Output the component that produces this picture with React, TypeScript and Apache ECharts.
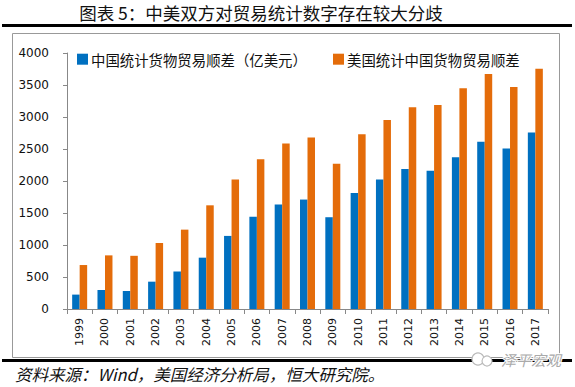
import React, { useEffect, useRef } from "react";
import * as echarts from "echarts";

const years = ["1999","2000","2001","2002","2003","2004","2005","2006","2007","2008","2009","2010","2011","2012","2013","2014","2015","2016","2017"];
const chinaStat = [225, 297, 281, 427, 586, 802, 1142, 1443, 1633, 1710, 1434, 1813, 2023, 2189, 2159, 2372, 2614, 2508, 2758];
const usStat = [687, 838, 831, 1031, 1240, 1620, 2023, 2341, 2587, 2680, 2268, 2731, 2952, 3151, 3187, 3449, 3672, 3470, 3752];
const seriesNames = ["中国统计货物贸易顺差（亿美元）", "美国统计中国货物贸易顺差"];
const titleText = "图表 5：中美双方对贸易统计数字存在较大分歧";
const sourceText = "资料来源：Wind，美国经济分析局，恒大研究院。";
const watermark = "泽平宏观";

export default function App() {
  const ref = useRef<HTMLDivElement>(null);
  useEffect(() => {
    if (!ref.current) return;
    const chart = echarts.init(ref.current, null, { renderer: "svg" });
    const cjk = "'Noto Sans CJK SC', sans-serif";
    chart.setOption({
      animation: false,
      backgroundColor: "#fff",
      grid: { left: 67, right: 27, top: 53, bottom: 78, containLabel: false },
      legend: [
        {
          data: [seriesNames[0]],
          left: 72, top: 47,
          icon: "rect", itemWidth: 11, itemHeight: 11, itemGap: 4,
          textStyle: { fontFamily: cjk, fontSize: 14.4, color: "#111", padding: [0, 0, 0, -2] },
        },
        {
          data: [seriesNames[1]],
          left: 328, top: 47,
          icon: "rect", itemWidth: 11, itemHeight: 11, itemGap: 4,
          textStyle: { fontFamily: cjk, fontSize: 14.4, color: "#111", padding: [0, 0, 0, -2] },
        },
      ],
      xAxis: {
        type: "category",
        data: years,
        axisLine: { lineStyle: { color: "#888", width: 1 } },
        axisTick: { show: true, length: 5, lineStyle: { color: "#888" } },
        axisLabel: { rotate: 90, fontFamily: "'DejaVu Sans', sans-serif", fontSize: 11, color: "#111", margin: 9, interval: 0 },
      },
      yAxis: {
        type: "value",
        min: 0, max: 4000, interval: 500,
        splitLine: { show: false },
        axisLine: { show: true, lineStyle: { color: "#888", width: 1 } },
        axisTick: { show: true, length: 4, lineStyle: { color: "#888" } },
        axisLabel: { fontFamily: "'DejaVu Sans', sans-serif", fontSize: 12, color: "#111", margin: 18, formatter: (v: number) => String(v) },
      },
      series: [
        { name: seriesNames[0], type: "bar", data: chinaStat, barWidth: 7.5, barGap: "0%", itemStyle: { color: "#0070C0" } },
        { name: seriesNames[1], type: "bar", data: usStat, barWidth: 7.5, barGap: "0%", itemStyle: { color: "#E46C0A" } },
      ],
      graphic: [
        { type: "text", x: 261, y: 4, style: { text: titleText, align: "center", fontFamily: cjk, fontSize: 17.5, fill: "#111" } },
        { type: "rect", shape: { x: 2, y: 24, width: 570, height: 3 }, style: { fill: "#000" }, silent: true },
        { type: "rect", shape: { x: 12.5, y: 33.5, width: 547, height: 324 }, style: { fill: "none", stroke: "#999", lineWidth: 1 }, silent: true, z: -1 },
        { type: "rect", shape: { x: 2, y: 359, width: 570, height: 3 }, style: { fill: "#000" }, silent: true },
        { type: "text", x: 15, y: 366, style: { text: sourceText, fontFamily: cjk, fontStyle: "italic", fontSize: 16.5, fill: "#111" } },
        { type: "circle", shape: { cx: 478, cy: 359, r: 6 }, style: { fill: "#fff", stroke: "#bbb", lineWidth: 1.2 }, z: 10 },
        { type: "circle", shape: { cx: 487, cy: 361, r: 5 }, style: { fill: "#fff", stroke: "#bbb", lineWidth: 1.2 }, z: 10 },
        { type: "text", x: 501, y: 352, z: 10, style: { text: watermark, fontFamily: cjk, fontStyle: "italic", fontSize: 15, fill: "#aaa", stroke: "#fff", lineWidth: 2 } },
      ],
    });
    return () => chart.dispose();
  }, []);
  return <div ref={ref} style={{ position: "fixed", left: 0, top: 0, width: 575, height: 387 }} />;
}
